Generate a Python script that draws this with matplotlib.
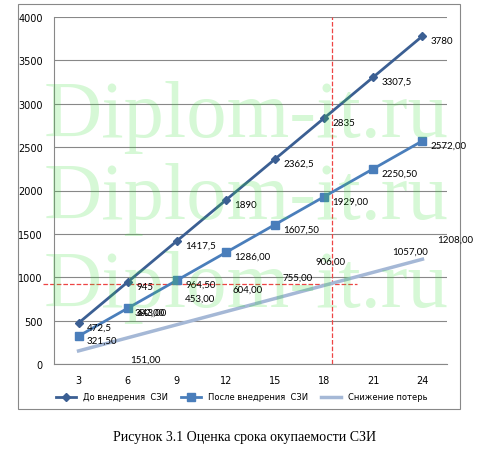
import matplotlib
matplotlib.use('Agg')
import matplotlib.pyplot as plt
from matplotlib.patches import Rectangle

months = ['3', '6', '9', '12', '15', '18', '21', '24']
before = [472.5, 945, 1417.5, 1890, 2362.5, 2835, 3307.5, 3780]
after = [321.50, 643.00, 964.50, 1286.00, 1607.50, 1929.00, 2250.50, 2572.00]
loss = [151, 302, 453, 604, 755, 906, 1057, 1208]
before_lbl = ['472,5', '945', '1417,5', '1890', '2362,5', '2835', '3307,5', '3780']
after_lbl = ['321,50', '643,00', '964,50', '1286,00', '1607,50', '1929,00', '2250,50', '2572,00']
loss_lbl = ['151,00', '302,00', '453,00', '604,00', '755,00', '906,00', '1057,00', '1208,00']
loss_px = [(145, 360), (150, 313), (200, 299), (248, 290), (298, 278), (330, 262), (410, 252), (455, 240)]

W, H = 493, 460
fig = plt.figure(figsize=(W/100, H/100), dpi=100)
fig.patches.append(Rectangle((18/W, 50/H), 442/W, 405/H, transform=fig.transFigure,
                             fill=False, edgecolor='#888888', lw=0.8))
ax = fig.add_axes([54/W, 95/H, 393/W, 347/H])
x = list(range(len(months)))
c1, c2, c3 = '#3b5f93', '#4a7ebb', '#a5b8d6'
ax.plot(x, loss, color=c3, lw=2.5, label='Снижение потерь', zorder=3)
ax.plot(x, after, color=c2, lw=2, marker='s', ms=6, label='После внедрения  СЗИ', zorder=4)
ax.plot(x, before, color=c1, lw=2, marker='D', ms=4, label='До внедрения  СЗИ', zorder=5)
fs = 7
lf = 'Lato'
for i in x:
    ax.annotate(before_lbl[i], (i, before[i]), xytext=(6, -3), textcoords='offset points',
                fontsize=fs, va='center', family=lf, zorder=6)
    ax.annotate(after_lbl[i], (i, after[i]), xytext=(6, -3), textcoords='offset points',
                fontsize=fs, va='center', family=lf, zorder=6)
    px, py = loss_px[i]
    fig.text(px/W, 1 - py/H, loss_lbl[i], fontsize=fs, ha='center', va='center', family=lf)
ax.set_xlim(-0.5, 7.5)
ax.set_ylim(0, 4000)
ax.set_yticks(range(0, 4001, 500))
ax.set_xticks(x)
ax.set_xticklabels(months)
ax.tick_params(labelsize=7, length=0, pad=8)
ax.grid(axis='y', color='#888888', lw=0.8)
ax.set_axisbelow(True)
for s in ['top', 'right']:
    ax.spines[s].set_visible(False)
ax.spines['left'].set_color('#888888')
ax.spines['bottom'].set_color('#888888')
ax.axvline(5.16, color='#ee4444', ls='--', lw=0.9, zorder=2)
ax.plot([-0.72, 5.67], [920, 920], color='#ee4444', ls='--', lw=0.9, clip_on=False, zorder=2)
h, l = ax.get_legend_handles_labels()
fig.legend(h[::-1], l[::-1], loc='center', bbox_to_anchor=(0.49, 1 - 398/H), ncol=3,
           frameon=False, fontsize=6, handlelength=2.5, columnspacing=1.5)
for yy in [118, 200, 288]:
    fig.text(0.5, 1 - yy/H, 'Diplom-it.ru', fontsize=58, ha='center', va='center',
             color='#33dd33', alpha=0.2, family='Liberation Serif', zorder=0)
fig.text(245/W, 1 - 438/H, 'Рисунок 3.1 Оценка срока окупаемости СЗИ', fontsize=10,
         ha='center', va='center', family='Liberation Serif')
fig.savefig('out.png', dpi=100)
